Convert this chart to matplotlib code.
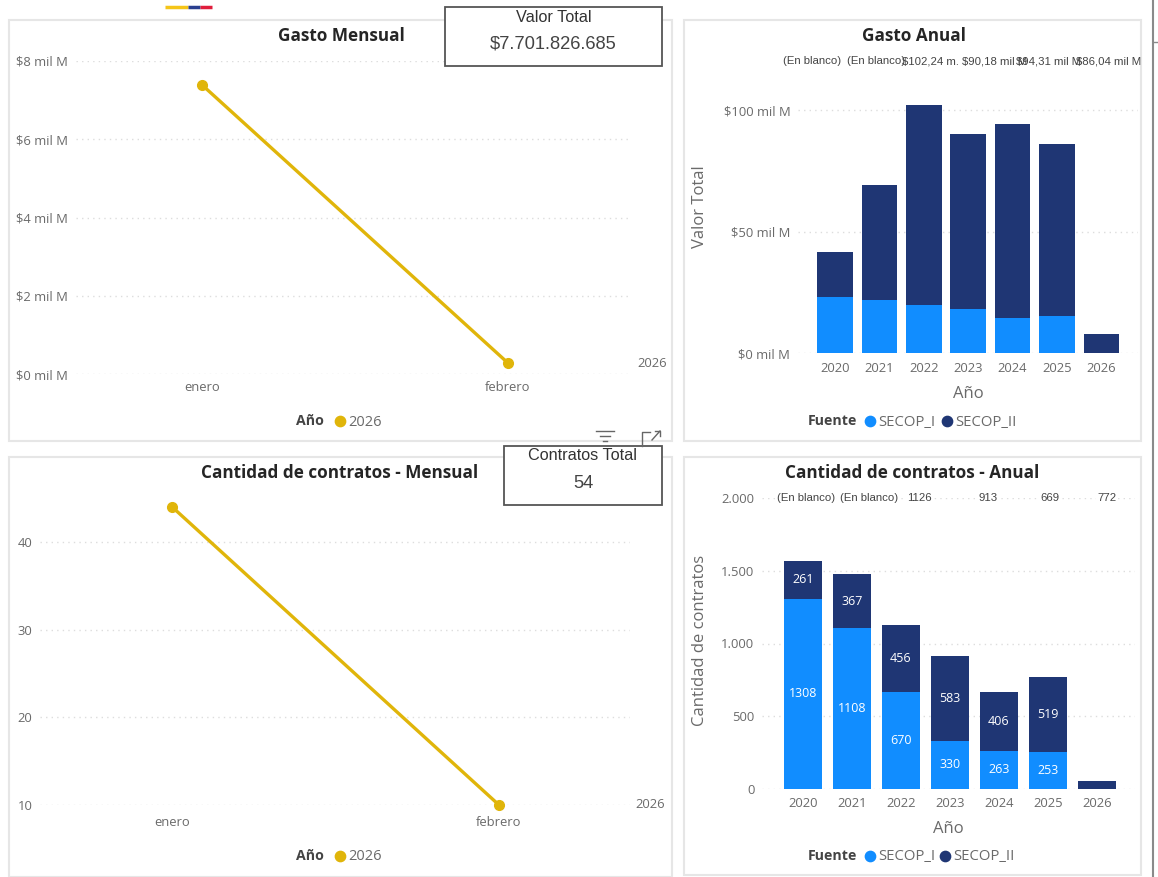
#! /usr/bin/env python

'''
Power BI style dashboard: monthly and yearly spend and contract counts
'''

import matplotlib
matplotlib.use('Agg')
import matplotlib.pyplot as plt
from matplotlib.patches import Rectangle

plt.rcParams['font.family'] = ['Open Sans', 'DejaVu Sans']

W, H = 1158, 877

months = ['enero', 'febrero']
gasto_mensual = [7.39, 0.28]
contratos_mensual = [44, 10]

years = ['2020', '2021', '2022', '2023', '2024', '2025', '2026']
gasto_i = [23.0, 21.8, 19.7, 18.0, 14.5, 15.2, 0]
gasto_ii = [18.6, 47.2, 82.54, 72.18, 79.81, 70.84, 7.7]
gasto_top = ['(En blanco)', '(En blanco)', '$102,24 m.', '$90,18 mil M', '$94,31 mil M', '$86,04 mil M']

cant_i = [1308, 1108, 670, 330, 263, 253, 0]
cant_ii = [261, 367, 456, 583, 406, 519, 54]
cant_top = ['(En blanco)', '(En blanco)', '1126', '913', '669', '772']

gasto_ticks = [0, 2, 4, 6, 8]
gasto_ticklabels = ['$0 mil M', '$2 mil M', '$4 mil M', '$6 mil M', '$8 mil M']
contratos_ticks = [10, 20, 30, 40]
anual_ticks = [0, 50, 100]
anual_ticklabels = ['$0 mil M', '$50 mil M', '$100 mil M']
cant_ticks = [0, 500, 1000, 1500, 2000]
cant_ticklabels = ['0', '500', '1.000', '1.500', '2.000']

YELLOW = '#E0B50A'
BLUE = '#118DFF'
NAVY = '#1F3674'
GRAY = '#6a6a6a'
DARK = '#333333'


def px_axes(left, top, right, bottom):
    return fig.add_axes([left / W, 1 - bottom / H, (right - left) / W, (bottom - top) / H])


def style(ax):
    for s in ax.spines.values():
        s.set_visible(False)
    ax.patch.set_alpha(0)
    ax.grid(axis='y', color='#dddddd', linestyle=(0, (1, 3)), linewidth=1)
    ax.set_axisbelow(True)
    ax.tick_params(length=0, labelsize=9.4, labelcolor=GRAY)
    ax.tick_params(axis='y', pad=5.5)
    for lab in ax.get_yticklabels():
        lab.set_va('center_baseline')


def line_chart(ax, values, ticks, ticklabels, label_dx, pad):
    ax.plot(range(len(months)), values, color=YELLOW, linewidth=2.4, marker='o', ms=7, clip_on=False)
    ax.set_xticks(range(len(months)), months)
    ax.set_yticks(ticks, ticklabels)
    style(ax)
    ax.tick_params(axis='x', pad=pad)
    ax.annotate('2026', xy=(1, values[-1]), xytext=(label_dx, 0), textcoords='offset points',
                ha='center', va='center', fontsize=9.4, color=GRAY)


def stacked(ax, low, high, ticks, ticklabels, width, ylabel, pad):
    x = range(len(years))
    ax.bar(x, low, width, color=BLUE)
    ax.bar(x, high, width, bottom=low, color=NAVY)
    ax.set_xticks(x, years)
    ax.set_yticks(ticks, ticklabels)
    style(ax)
    ax.tick_params(axis='x', pad=pad)
    ax.set_ylabel(ylabel, fontsize=12, color=GRAY)
    ax.set_xlabel('Año', fontsize=12, color=GRAY, labelpad=8)


fig = plt.figure(figsize=(W / 100, H / 100), dpi=100)

# panels and page furniture go underneath everything
back = fig.add_axes([0, 0, 1, 1], zorder=0)
back.set_xlim(0, W)
back.set_ylim(H, 0)
back.axis('off')
for x0, y0, x1, y1 in [(9, 20, 672, 441), (9, 457, 672, 877), (684, 20, 1141, 441), (684, 457, 1141, 875)]:
    back.add_patch(Rectangle((x0, y0), x1 - x0, y1 - y0, fc='white', ec='#e6e6e6', lw=1.5))
back.plot([165, 188], [7, 7], color='#F5C518', lw=2.5, solid_capstyle='butt')
back.plot([188, 200], [7, 7], color='#2A3F8F', lw=2.5, solid_capstyle='butt')
back.plot([200, 212], [7, 7], color='#E01E3C', lw=2.5, solid_capstyle='butt')
back.plot([1153, 1153], [0, 877], color='#8a8a8a', lw=1.5)
back.plot([1153, 1158], [42, 42], color='#8a8a8a', lw=1)

# Gasto Mensual
ax1 = px_axes(76, 61, 630, 374)
ax1.set_xlim((76 - 202) / 306, (630 - 202) / 306)
ax1.set_ylim(0, 8)
line_chart(ax1, gasto_mensual, gasto_ticks, gasto_ticklabels, 104, 5)

# Cantidad de contratos - Mensual
ax2 = px_axes(40, 490, 630, 805)
ax2.set_xlim((40 - 172) / 327, (630 - 172) / 327)
ax2.set_ylim(10, 10 + (805 - 490) / 8.77)
line_chart(ax2, contratos_mensual, contratos_ticks, contratos_ticks, 109, 8)

# Gasto Anual
ax3 = px_axes(798, 61, 1138, 353)
ax3.set_xlim((798 - 835) / 44.4, (1138 - 835) / 44.4)
ax3.set_ylim(0, (353 - 61) / 2.43)
stacked(ax3, gasto_i, gasto_ii, anual_ticks, anual_ticklabels, 0.8, 'Valor Total', 6.5)
ax3.yaxis.set_label_coords((708 - 798) / 340, 0.5)

# Cantidad de contratos - Anual
ax4 = px_axes(762, 498, 1135, 789)
ax4.set_xlim((762 - 803) / 49, (1135 - 803) / 49)
ax4.set_ylim(0, 2000)
stacked(ax4, cant_i, cant_ii, cant_ticks, cant_ticklabels, 0.78, 'Cantidad de contratos', 6)
ax4.yaxis.set_label_coords((708 - 762) / 373, 0.51)
for i in range(len(years) - 1):
    ax4.text(i, cant_i[i] / 2, str(cant_i[i]), color='white', ha='center', va='center', fontsize=9)
    ax4.text(i, cant_i[i] + cant_ii[i] / 2, str(cant_ii[i]), color='white', ha='center', va='center', fontsize=9)

# titles, legends and cards go on top
top = fig.add_axes([0, 0, 1, 1], zorder=5)
top.set_xlim(0, W)
top.set_ylim(H, 0)
top.axis('off')

for txt, x, y in [('Gasto Mensual', 341, 36), ('Gasto Anual', 914, 36),
                  ('Cantidad de contratos - Mensual', 340, 473), ('Cantidad de contratos - Anual', 912, 473)]:
    top.text(x, y, txt, ha='center', va='center', fontsize=12.3, fontweight='bold', color='#252525')

for txt, x in zip(gasto_top, [783, 847, 902, 962, 1016, 1076]):
    top.text(x, 61, txt, ha='left', va='center', fontsize=8.2, color='#444444', family='Liberation Sans')
for txt, x in zip(cant_top, [806, 869, 919, 988, 1050, 1107]):
    top.text(x, 498, txt, ha='center', va='center', fontsize=8.2, color='#444444', family='Liberation Sans',
             bbox=dict(fc='white', ec='none', pad=1))

# legends
for y, x in [(421, 310), (856, 310)]:
    top.text(x, y, 'Año', ha='center', va='center', fontsize=10.2, fontweight='bold', color='#444444')
    top.scatter([x + 30], [y], s=55, color=YELLOW)
    top.text(x + 38, y + 1, '2026', ha='left', va='center', fontsize=10.5, color=GRAY)
for y, x_blue, x_navy in [(421, 870, 947), (856, 870, 945)]:
    top.text(832, y, 'Fuente', ha='center', va='center', fontsize=10.2, fontweight='bold', color='#444444')
    top.scatter([x_blue], [y], s=55, color=BLUE)
    top.text(x_blue + 8, y + 1, 'SECOP_I', ha='left', va='center', fontsize=10.7, color=GRAY)
    top.scatter([x_navy], [y], s=55, color=NAVY)
    top.text(x_navy + 8, y + 1, 'SECOP_II', ha='left', va='center', fontsize=10.7, color=GRAY)

# visual header icons
for x0, x1, y in [(596, 614, 431), (600, 610, 436), (603, 607, 441)]:
    top.plot([x0, x1], [y, y], color='#666666', lw=1)
top.plot([642, 642, 650], [446, 432, 432], color='#666666', lw=1)
top.plot([652, 660], [440, 431], color='#666666', lw=1)
top.plot([655, 660, 660], [431, 431, 436], color='#666666', lw=1)

# cards
for x0, y0, x1, y1, head, val, head_y, val_y in [
        (445, 7, 662, 66, 'Valor Total', '$7.701.826.685', 17, 44),
        (504, 446, 662, 505, 'Contratos Total', '54', 456, 484)]:
    top.add_patch(Rectangle((x0, y0), x1 - x0, y1 - y0, fc='white', ec='#555555', lw=1.3))
    top.text((x0 + x1) / 2, head_y, head, ha='center', va='center', fontsize=11.7, color=DARK, family='Liberation Sans')
    top.text((x0 + x1) / 2, val_y, val, ha='center', va='center', fontsize=13.2, color='#444444', family='Liberation Sans')

plt.savefig('out.png', dpi=100)
plt.clf()
